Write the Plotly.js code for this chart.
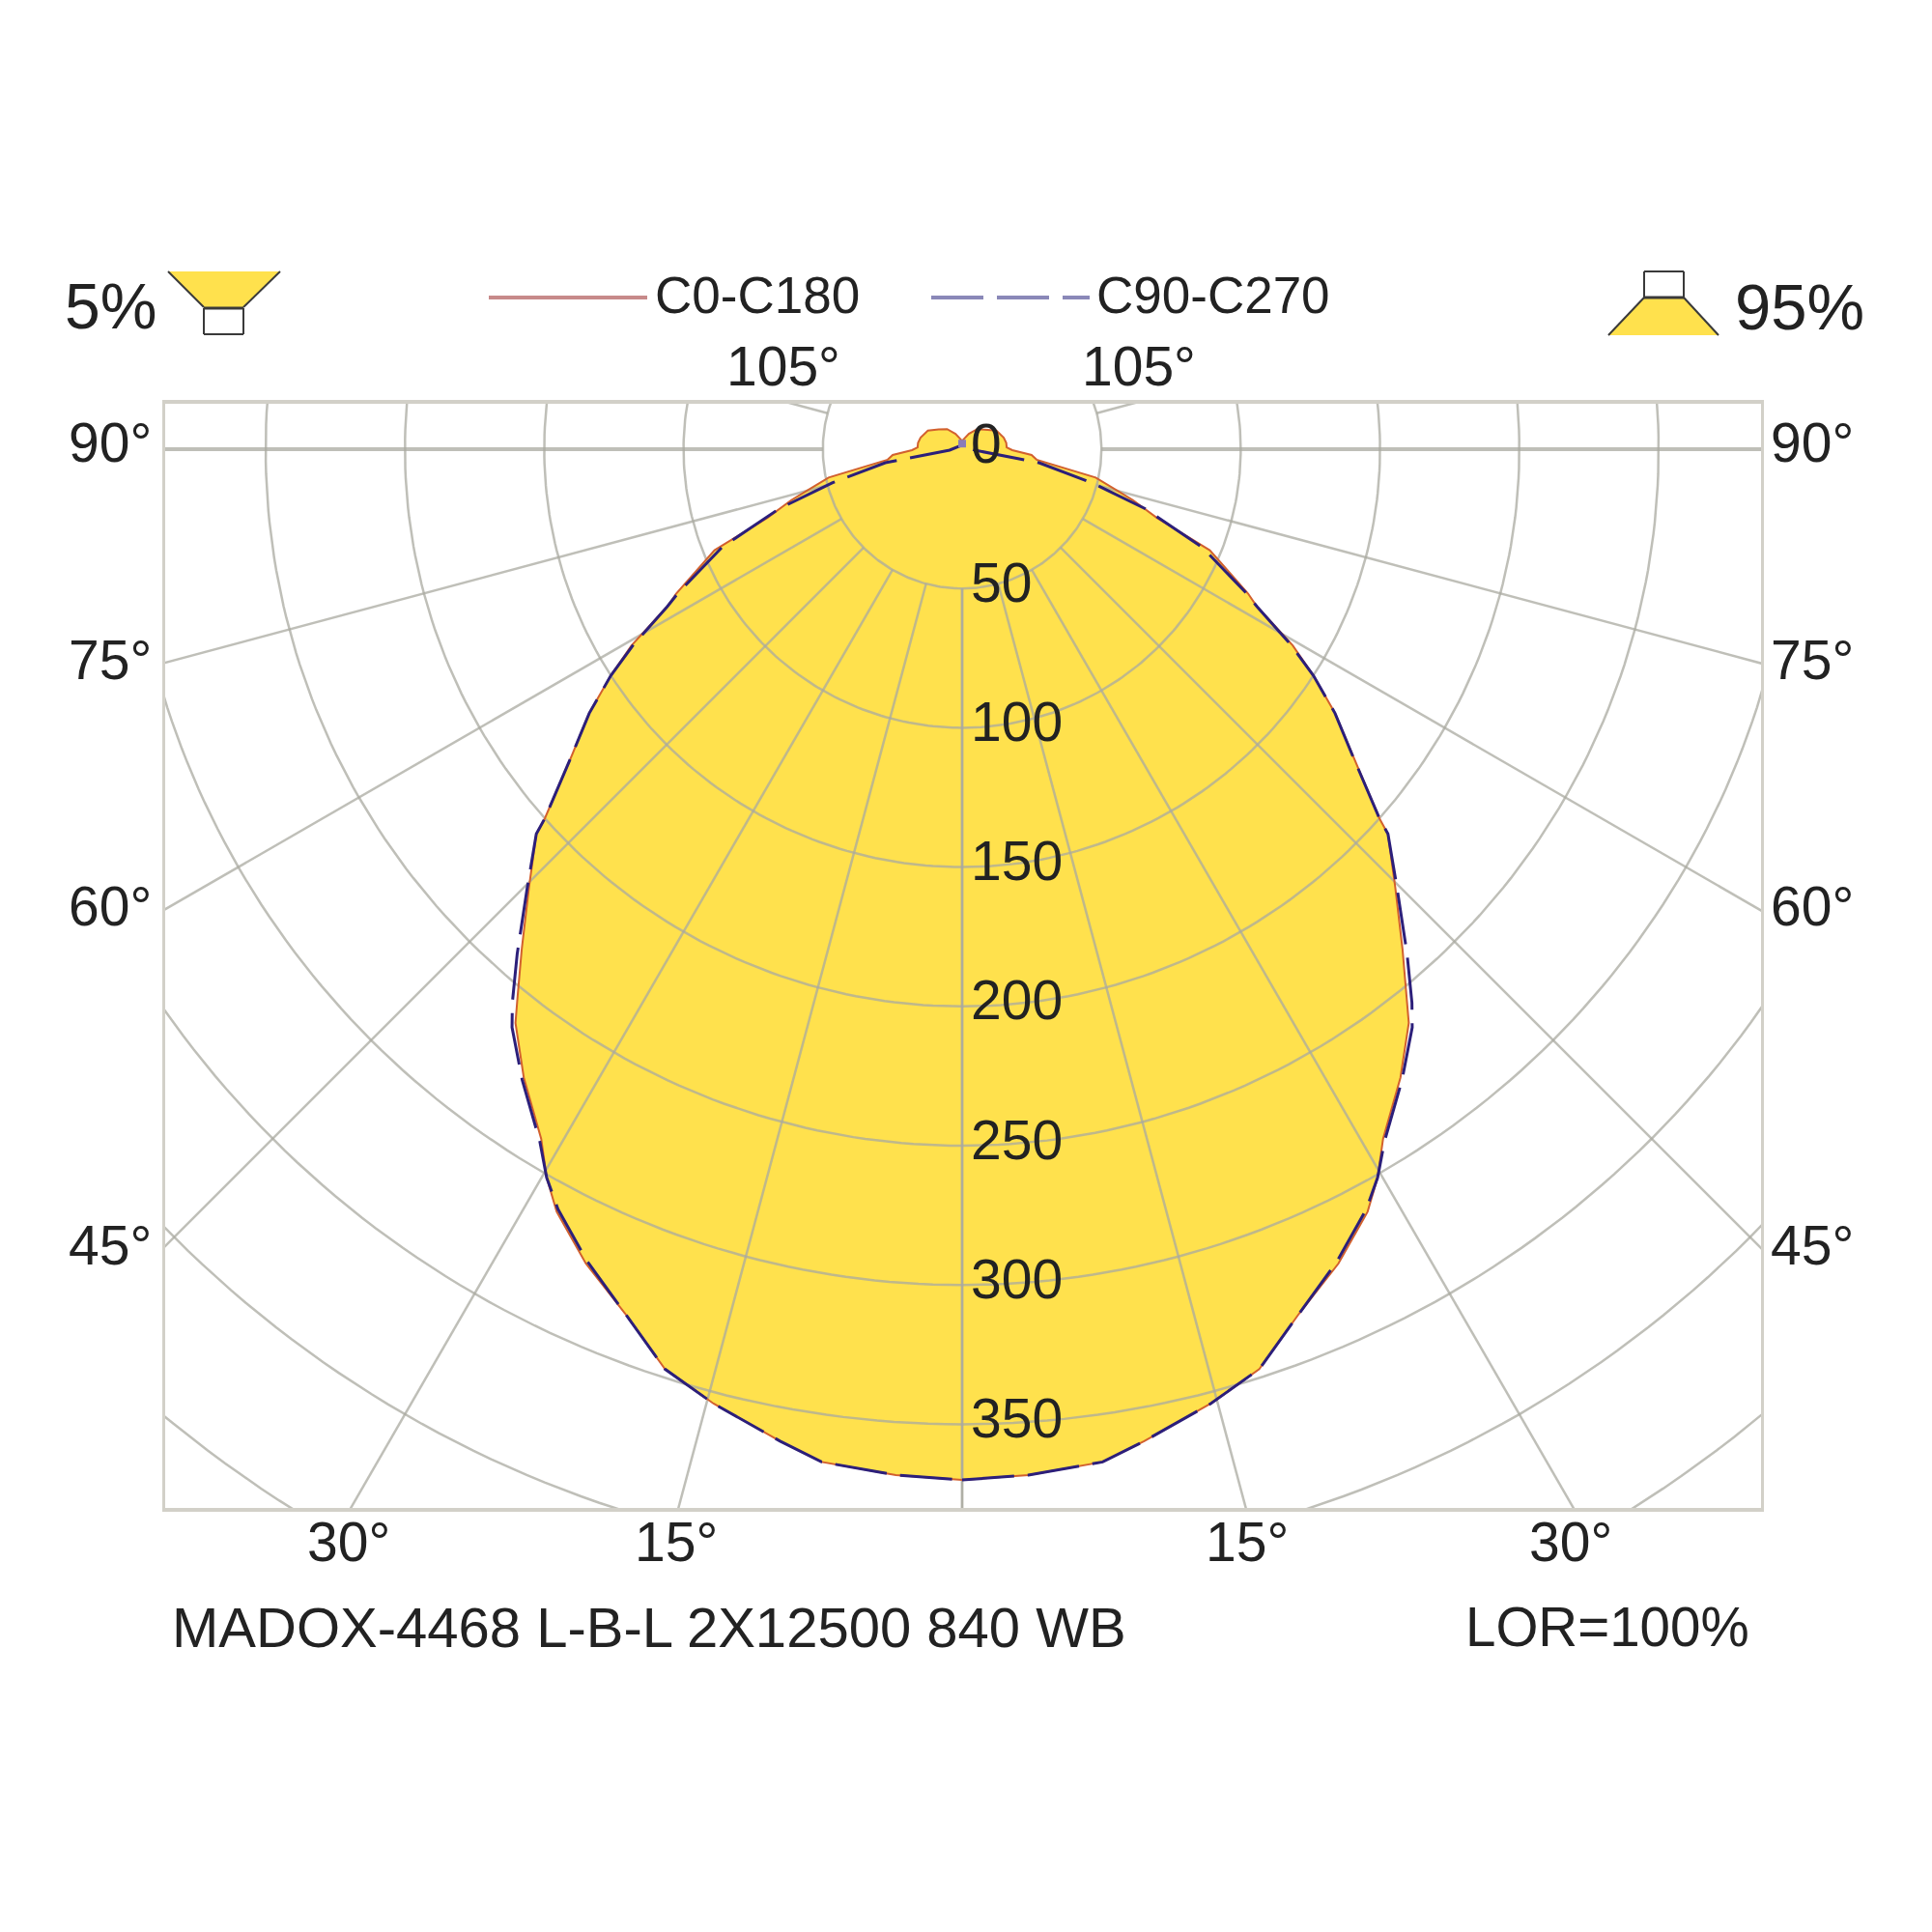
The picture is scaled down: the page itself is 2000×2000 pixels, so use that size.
<!DOCTYPE html>
<html>
<head>
<meta charset="utf-8">
<title>MADOX-4468 polar diagram</title>
<script src="https://cdn.plot.ly/plotly-3.0.1.min.js"></script>
<style>
  html, body { margin: 0; padding: 0; background: #fff; }
  #chart { width: 2000px; height: 2000px; }
</style>
</head>
<body>
<div id="chart"></div>
<script>
// Intensity curves, angle from nadir in degrees, values in cd/klm
const c0Angles = [0, 3.7, 7.9, 10.4, 14.6, 17.9, 21.3, 24.8, 28, 29.7, 31.4, 34.9, 37.9, 39.1, 41.4, 44.7, 47.9, 48.5, 51.9, 54.7, 57.2, 59.3, 61.9, 63.2, 67.8, 70.6, 73.4, 78, 82, 85.2, 88.9, 92.4, 98, 105.6, 118.5, 130, 143.1, 156.4, 180];
const c0Values = [370, 369, 367, 362, 354, 347, 333, 322, 310, 301, 290, 275, 261, 253, 239, 221, 206, 200, 178, 164, 150, 138, 120, 115, 96, 74, 64, 49, 27, 25, 18, 16, 16, 15.5, 14, 11, 9, 6, 3];
const c90Angles = [0, 3.7, 7.9, 10.4, 14.6, 17.9, 21.3, 24.8, 28, 29.7, 31.4, 34.9, 37.9, 39.1, 41.4, 44.7, 47.9, 48.5, 51.9, 54.7, 57.2, 59.3, 61.9, 63.2, 67.8, 72, 75.5, 80, 85.6, 180];
const c90Values = [370, 369, 367, 362, 354, 347, 333, 321, 309, 301, 291, 276, 263, 256, 241.5, 222, 206, 200, 178, 164, 150, 137, 120, 114, 93, 69, 48, 28, 4.5, 1.5];

// Grid
const ringValues = [50, 100, 150, 200, 250, 300, 350, 400, 450];
const spokeAngles = [0, 15, 30, 45, 60, 75, 105];
const horizontalAngle = 90;
const radialLabels = [0, 50, 100, 150, 200, 250, 300, 350];

// Labels
const leftAngleLabels = ['90°', '75°', '60°', '45°'];
const leftAngleLabelY = [458, 683, 938, 1289];
const bottomAngleLabels = ['30°', '15°', '15°', '30°'];
const bottomAngleLabelX = [361, 700, 1291, 1626];
const topAngleLabels = ['105°', '105°'];
const topAngleLabelX = [811, 1179];
const legendNames = ['C0-C180', 'C90-C270'];
const productName = 'MADOX-4468 L-B-L 2X12500 840 WB';
const lorText = 'LOR=100%';
const downwardShare = '5%';
const upwardShare = '95%';

// Page geometry of the plot frame, in pixels
const frame = { left: 171, right: 1823, top: 418, bottom: 1561 };
const centre = { x: 996, y: 465 };
const pxPerCd = 2.884;

const FONT = '"Liberation Sans", Arial, sans-serif';
const TEXT = '#222222';
const YELLOW = '#ffe14d';
const GRID = 'rgba(170,170,160,0.75)';
const FRAME = '#d2d0c8';

// Pixel to paper helpers for things that sit outside the plot frame
const paperX = px => (px - frame.left) / (frame.right - frame.left);
const paperY = py => (frame.bottom - py) / (frame.bottom - frame.top);

// Polar to plot coordinates, nadir points down
function toX(angle, value) { return value * Math.sin(angle * Math.PI / 180); }
function toY(angle, value) { return -value * Math.cos(angle * Math.PI / 180); }

// Both halves of a curve as one closed outline
function closedCurve(angles, values) {
    const x = [], y = [];
    angles.forEach((a, i) => { x.push(toX(a, values[i])); y.push(toY(a, values[i])); });
    for (let i = angles.length - 1; i >= 0; i--) {
        x.push(-toX(angles[i], values[i]));
        y.push(toY(angles[i], values[i]));
    }
    return { x, y };
}

function ringTrace() {
    const x = [], y = [];
    ringValues.forEach(r => {
        for (let a = 0; a <= 360; a++) {
            x.push(toX(a, r));
            y.push(toY(a, r));
        }
        x.push(null);
        y.push(null);
    });
    return { type: 'scatter', mode: 'lines', x, y, line: { color: GRID, width: 2.5 }, hoverinfo: 'skip' };
}

function spokeTrace(angles, width) {
    const x = [], y = [];
    angles.forEach(a => {
        [1, -1].forEach(side => {
            x.push(side * toX(a, ringValues[0]), side * toX(a, 1000), null);
            y.push(toY(a, ringValues[0]), toY(a, 1000), null);
        });
    });
    return { type: 'scatter', mode: 'lines', x, y, line: { color: GRID, width }, hoverinfo: 'skip' };
}

const c0Curve = closedCurve(c0Angles, c0Values);
const c90Curve = closedCurve(c90Angles, c90Values);

const traces = [
    { type: 'scatter', mode: 'lines', x: c0Curve.x, y: c0Curve.y, fill: 'toself', fillcolor: YELLOW, line: { width: 0 }, hoverinfo: 'skip' },
    ringTrace(),
    spokeTrace(spokeAngles, 2.5),
    spokeTrace([horizontalAngle], 4),
    { type: 'scatter', mode: 'lines', x: c0Curve.x, y: c0Curve.y, line: { color: '#d2602e', width: 2 }, hoverinfo: 'skip' },
    { type: 'scatter', mode: 'lines', x: c90Curve.x, y: c90Curve.y, line: { color: '#2c1f7a', width: 3, dash: '54px,14px' }, hoverinfo: 'skip' },
    { type: 'scatter', mode: 'markers', x: [0], y: [2], marker: { symbol: 'square', color: '#8a7cb8', size: 8 }, hoverinfo: 'skip' }
];

function label(text, x, y, xanchor, size) {
    return {
        text, x: paperX(x), y: paperY(y), xref: 'paper', yref: 'paper',
        xanchor, yanchor: 'middle', showarrow: false,
        font: { family: FONT, size, color: TEXT }
    };
}

const annotations = [];
leftAngleLabels.forEach((t, i) => {
    annotations.push(label(t, 159, leftAngleLabelY[i], 'right', 57));
    annotations.push(label(t, 1831, leftAngleLabelY[i], 'left', 57));
});
bottomAngleLabels.forEach((t, i) => annotations.push(label(t, bottomAngleLabelX[i], 1596, 'center', 57)));
topAngleLabels.forEach((t, i) => annotations.push(label(t, topAngleLabelX[i], 379, 'center', 57)));
radialLabels.forEach(r => {
    annotations.push(label(String(r), 1003, centre.y - 6.5 + r * pxPerCd, 'left', 57));
});
annotations.push(label(legendNames[0], 676, 305, 'left', 53));
annotations.push(label(legendNames[1], 1133, 305, 'left', 53));
annotations.push(label(downwardShare, 65, 317, 'left', 66));
annotations.push(label(upwardShare, 1794, 317, 'left', 67));
annotations.push(label(productName, 176, 1684, 'left', 58));
annotations.push(label(lorText, 1813, 1684, 'right', 56.5));

function paperLine(x0, y0, x1, y1, color, width, dash) {
    return {
        type: 'line', xref: 'paper', yref: 'paper',
        x0: paperX(x0), y0: paperY(y0), x1: paperX(x1), y1: paperY(y1),
        line: { color, width, dash: dash || 'solid' }
    };
}

function paperPoly(points, fill) {
    const path = points.map((p, i) => (i ? 'L' : 'M') + paperX(p[0]) + ',' + paperY(p[1])).join(' ') + ' Z';
    return { type: 'path', xref: 'paper', yref: 'paper', path, fillcolor: fill, line: { width: 0 } };
}

const ICON_LINE = '#3a3a3a';
const shapes = [
    // legend samples
    paperLine(506, 308, 670, 308, '#c78a8a', 4),
    paperLine(964, 308, 1128, 308, '#8a88b8', 4, '54px,14px'),
    // luminaire icon, 5% down
    paperPoly([[174, 281], [290, 281], [252, 318], [211, 318]], YELLOW),
    paperLine(174, 281, 211, 318, ICON_LINE, 2),
    paperLine(290, 281, 252, 318, ICON_LINE, 2),
    paperLine(211, 319, 252, 319, ICON_LINE, 3),
    paperLine(211, 319, 211, 346, ICON_LINE, 2),
    paperLine(252, 319, 252, 346, ICON_LINE, 2),
    paperLine(211, 346, 252, 346, ICON_LINE, 2),
    // luminaire icon, 95% up
    paperPoly([[1702, 308], [1743, 308], [1779, 347], [1665, 347]], YELLOW),
    paperLine(1702, 308, 1665, 347, ICON_LINE, 2),
    paperLine(1743, 308, 1779, 347, ICON_LINE, 2),
    paperLine(1702, 308, 1743, 308, ICON_LINE, 3),
    paperLine(1702, 281, 1702, 308, ICON_LINE, 2),
    paperLine(1743, 281, 1743, 308, ICON_LINE, 2),
    paperLine(1702, 281, 1743, 281, ICON_LINE, 2)
];

const layout = {
    width: 2000,
    height: 2000,
    margin: { l: frame.left, r: 2000 - frame.right, t: frame.top, b: 2000 - frame.bottom, pad: 0 },
    paper_bgcolor: '#ffffff',
    plot_bgcolor: '#ffffff',
    showlegend: false,
    hovermode: false,
    xaxis: {
        range: [(frame.left - centre.x) / pxPerCd, (frame.right - centre.x) / pxPerCd],
        showgrid: false, zeroline: false, showticklabels: false, ticks: '',
        showline: true, mirror: true, linecolor: FRAME, linewidth: 4
    },
    yaxis: {
        range: [(centre.y - frame.bottom) / pxPerCd, (centre.y - frame.top) / pxPerCd],
        showgrid: false, zeroline: false, showticklabels: false, ticks: '',
        showline: true, mirror: true, linecolor: FRAME, linewidth: 3
    },
    annotations,
    shapes
};

Plotly.newPlot('chart', traces, layout, { displayModeBar: false, staticPlot: true });
</script>
</body>
</html>
